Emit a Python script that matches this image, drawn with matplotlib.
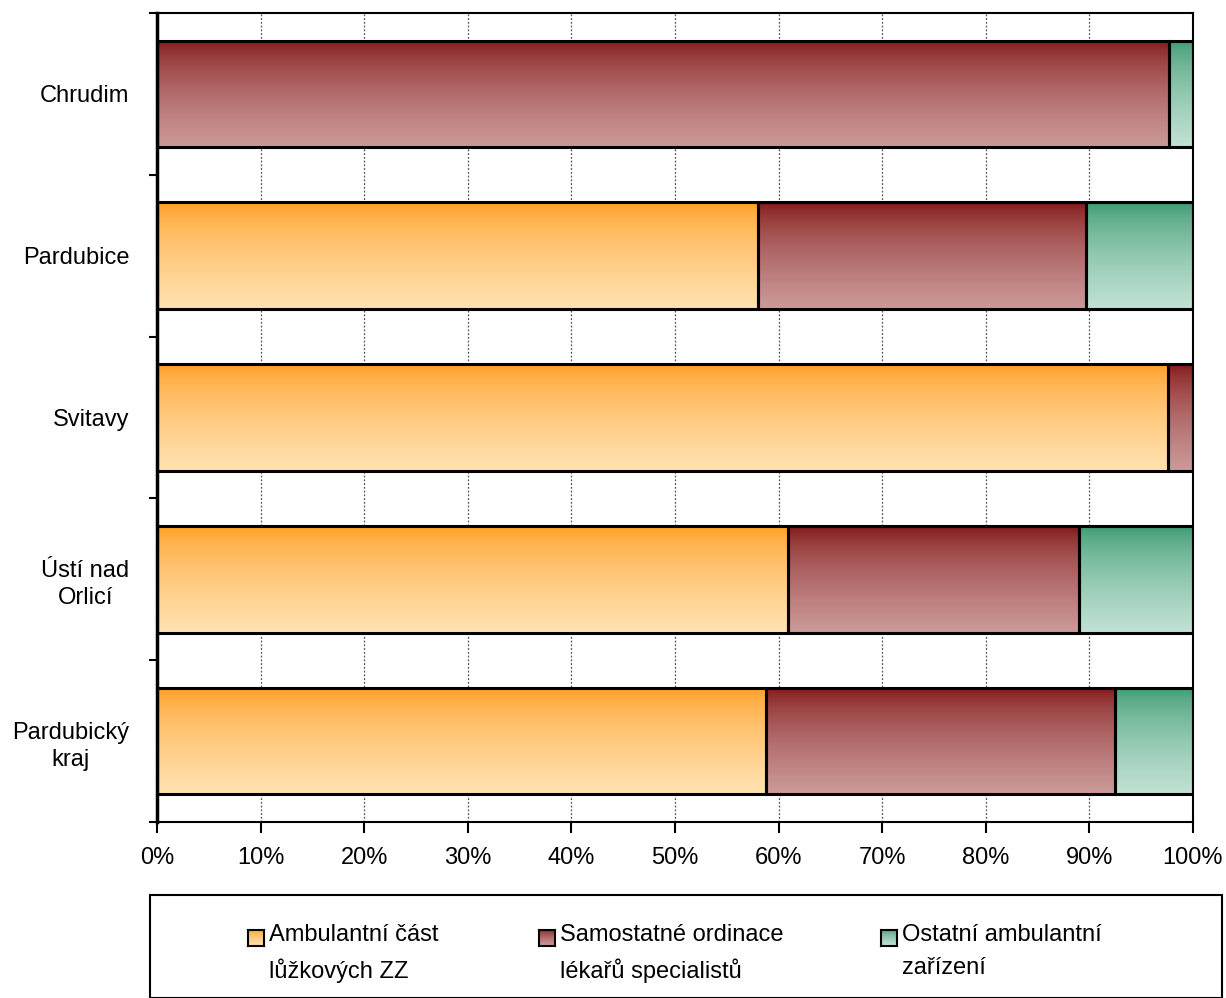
import numpy as np
import matplotlib
matplotlib.use("Agg")
import matplotlib.pyplot as plt
from matplotlib.patches import Rectangle
from matplotlib.colors import to_rgb

plt.rcParams['font.family'] = ['Liberation Sans', 'DejaVu Sans']

regions = ["Chrudim", "Pardubice", "Svitavy", "Ústí nad\nOrlicí", "Pardubický\nkraj"]
series_names = ["Ambulantní část\nlůžkových ZZ",
                "Samostatné ordinace\nlékařů specialistů",
                "Ostatní ambulantní\nzařízení"]
ambulantni = [0.0, 58.0, 97.6, 60.9, 58.8]
samostatne = [97.7, 31.7, 2.4, 28.1, 33.7]
ostatni = [2.3, 10.3, 0.0, 11.0, 7.5]

# gradient top -> bottom
grad_colors = [("#ff9a1a", "#ffe2b2"),
               ("#7f0f0f", "#cc9a9a"),
               ("#33966a", "#c2e2d4")]

W, H = 1226, 998
fig = plt.figure(figsize=(W / 100, H / 100), dpi=100)
ax = fig.add_axes([157/W, 1-822/H, (1193-157)/W, (822-13)/H])


def gradient(c_top, c_bot, n=100):
    t = np.linspace(0, 1, n)[:, None] ** 0.6
    top = np.array(to_rgb(c_top))
    bot = np.array(to_rgb(c_bot))
    return (top * (1 - t) + bot * t)[:, None, :]


ypos = np.arange(len(regions))[::-1]
left = np.zeros(len(regions))
for vals, (c_top, c_bot) in zip([ambulantni, samostatne, ostatni], grad_colors):
    vals = np.array(vals)
    bars = ax.barh(ypos, vals, left=left, height=0.66, facecolor='none',
                   edgecolor='black', linewidth=2.2, zorder=3)
    img = gradient(c_top, c_bot)
    for b in bars:
        if b.get_width() <= 0:
            continue
        x0, y0 = b.get_x(), b.get_y()
        ax.imshow(img, extent=(x0, x0 + b.get_width(), y0, y0 + b.get_height()),
                  origin='upper', aspect='auto', zorder=2, interpolation='bilinear')
    left += vals

ax.set_xlim(0, 100)
ax.set_ylim(-0.5, len(regions) - 0.5)
ax.set_xticks(np.arange(0, 101, 10))
ax.set_xticklabels([f"{v}%" for v in range(0, 101, 10)], fontsize=17)
ax.set_yticks(np.arange(-0.5, len(regions), 1.0))
ax.set_yticklabels([])
ax.set_yticks(ypos, minor=True)
ax.set_yticklabels(regions, minor=True, fontsize=17, ha='right',
                   multialignment='center', linespacing=1.3)
ax.tick_params(axis='y', which='minor', length=0, pad=20)
ax.tick_params(axis='y', which='major', length=6, width=1.5)
ax.tick_params(axis='x', which='major', length=8, width=1.5, pad=10)
ax.xaxis.grid(True, linestyle=(0, (1.5, 1.5)), color='#555555', linewidth=0.9, zorder=0)
ax.set_axisbelow(True)
for s in ax.spines.values():
    s.set_linewidth(1.5)
ax.spines['left'].set_linewidth(2.5)

# legend box
fig.patches.append(Rectangle((150/W, 0), (1222-150)/W, (998-895)/H,
                             transform=fig.transFigure, facecolor='white',
                             edgecolor='black', linewidth=1.5, zorder=0))
handle_x = [248, 539, 881]
for hx, name, (c_top, c_bot) in zip(handle_x, series_names, grad_colors):
    hax = fig.add_axes([hx/W, 1-946/H, 16/W, 16/H], zorder=5)
    hax.imshow(gradient(c_top, c_bot), aspect='auto', extent=(0, 1, 0, 1))
    hax.set_xticks([])
    hax.set_yticks([])
    for s in hax.spines.values():
        s.set_linewidth(1.5)
    fig.text((hx + 21)/W, 1-924/H, name, ha='left', va='top', fontsize=17,
             linespacing=1.65, zorder=5)

fig.savefig("out.png", dpi=100)
